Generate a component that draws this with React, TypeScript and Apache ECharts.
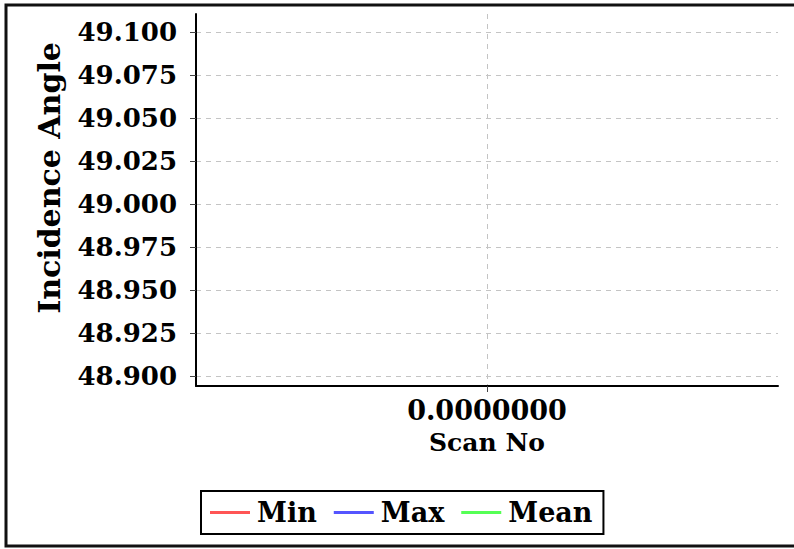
import React, { useEffect, useRef } from "react";
import * as echarts from "echarts";

const seriesNames = ["Min", "Max", "Mean"];
const seriesColors = ["#ff5555", "#5555ff", "#55ff55"];
const scanNo = [0];
const minValues = [49.0];
const maxValues = [49.0];
const meanValues = [49.0];
const yTicks = [48.9, 48.925, 48.95, 48.975, 49.0, 49.025, 49.05, 49.075, 49.1];
const xTicks = [0];

const FONT = "DejaVu Serif";

export default function App() {
  const ref = useRef<HTMLDivElement>(null);
  useEffect(() => {
    if (!ref.current) return;
    const chart = echarts.init(ref.current, undefined, { renderer: "svg" });
    const allValues = [minValues, maxValues, meanValues];
    const option: any = {
      animation: false,
      backgroundColor: "#ffffff",
      textStyle: { fontFamily: FONT },
      graphic: [
        {
          type: "rect",
          shape: { x: 6, y: 5, width: 800, height: 541 },
          style: { fill: "none", stroke: "#111", lineWidth: 3 },
          z: 100,
        },
      ],
      grid: {
        left: 196,
        right: 16,
        top: 14,
        bottom: 163,
        outerBoundsMode: "none",
        containLabel: false,
      },
      legend: {
        left: 201,
        top: 491,
        orient: "horizontal",
        data: seriesNames,
        icon: "rect",
        itemWidth: 40,
        itemHeight: 3,
        itemGap: 17,
        padding: [8, 11, 8, 9],
        borderColor: "#000",
        borderWidth: 2,
        borderRadius: 0,
        textStyle: {
          fontFamily: FONT,
          fontWeight: "bold",
          fontSize: 27,
          color: "#000",
          padding: [0, 0, 0, 2],
        },
      },
      xAxis: {
        type: "value",
        min: -1,
        max: 1,
        name: "Scan No",
        nameLocation: "middle",
        nameGap: 44,
        nameTextStyle: { fontFamily: FONT, fontWeight: "bold", fontSize: 25, color: "#000" },
        axisLine: { show: true, onZero: false, lineStyle: { color: "#000", width: 2 } },
        axisTick: { show: true, length: 6, customValues: xTicks, lineStyle: { color: "#444", width: 1 } },
        axisLabel: {
          customValues: xTicks,
          margin: 11,
          fontFamily: FONT,
          fontWeight: "bold",
          fontSize: 27,
          color: "#000",
          formatter: (v: number) => v.toFixed(7),
        },
        splitLine: { show: true, lineStyle: { color: "#c4c4c4", width: 1, type: [5, 5] } },
      },
      yAxis: {
        type: "value",
        min: 48.89418,
        max: 49.11048,
        name: "Incidence Angle",
        nameLocation: "middle",
        nameGap: 132,
        nameTextStyle: {
          fontFamily: FONT,
          fontWeight: "bold",
          fontSize: 30,
          color: "#000",
          padding: [0, 0, 0, 44],
        },
        axisLine: { show: true, onZero: false, lineStyle: { color: "#000", width: 2 } },
        axisTick: { show: true, length: 6, customValues: yTicks, lineStyle: { color: "#444", width: 1 } },
        axisLabel: {
          customValues: yTicks,
          margin: 19,
          fontFamily: FONT,
          fontWeight: "bold",
          fontSize: 26,
          color: "#000",
          formatter: (v: number) => v.toFixed(3),
        },
        splitLine: { show: true, lineStyle: { color: "#c4c4c4", width: 1, type: [5, 5] } },
      },
      series: seriesNames.map((name, i) => ({
        name,
        type: "line",
        data: scanNo.map((x, j) => [x, allValues[i][j]]),
        symbol: "none",
        showSymbol: false,
        itemStyle: { color: seriesColors[i] },
        lineStyle: { color: seriesColors[i], width: 2 },
      })),
    };
    chart.setOption(option);
    return () => chart.dispose();
  }, []);
  return (
    <div
      ref={ref}
      style={{ position: "absolute", left: 0, top: 0, width: 794, height: 549 }}
    />
  );
}
